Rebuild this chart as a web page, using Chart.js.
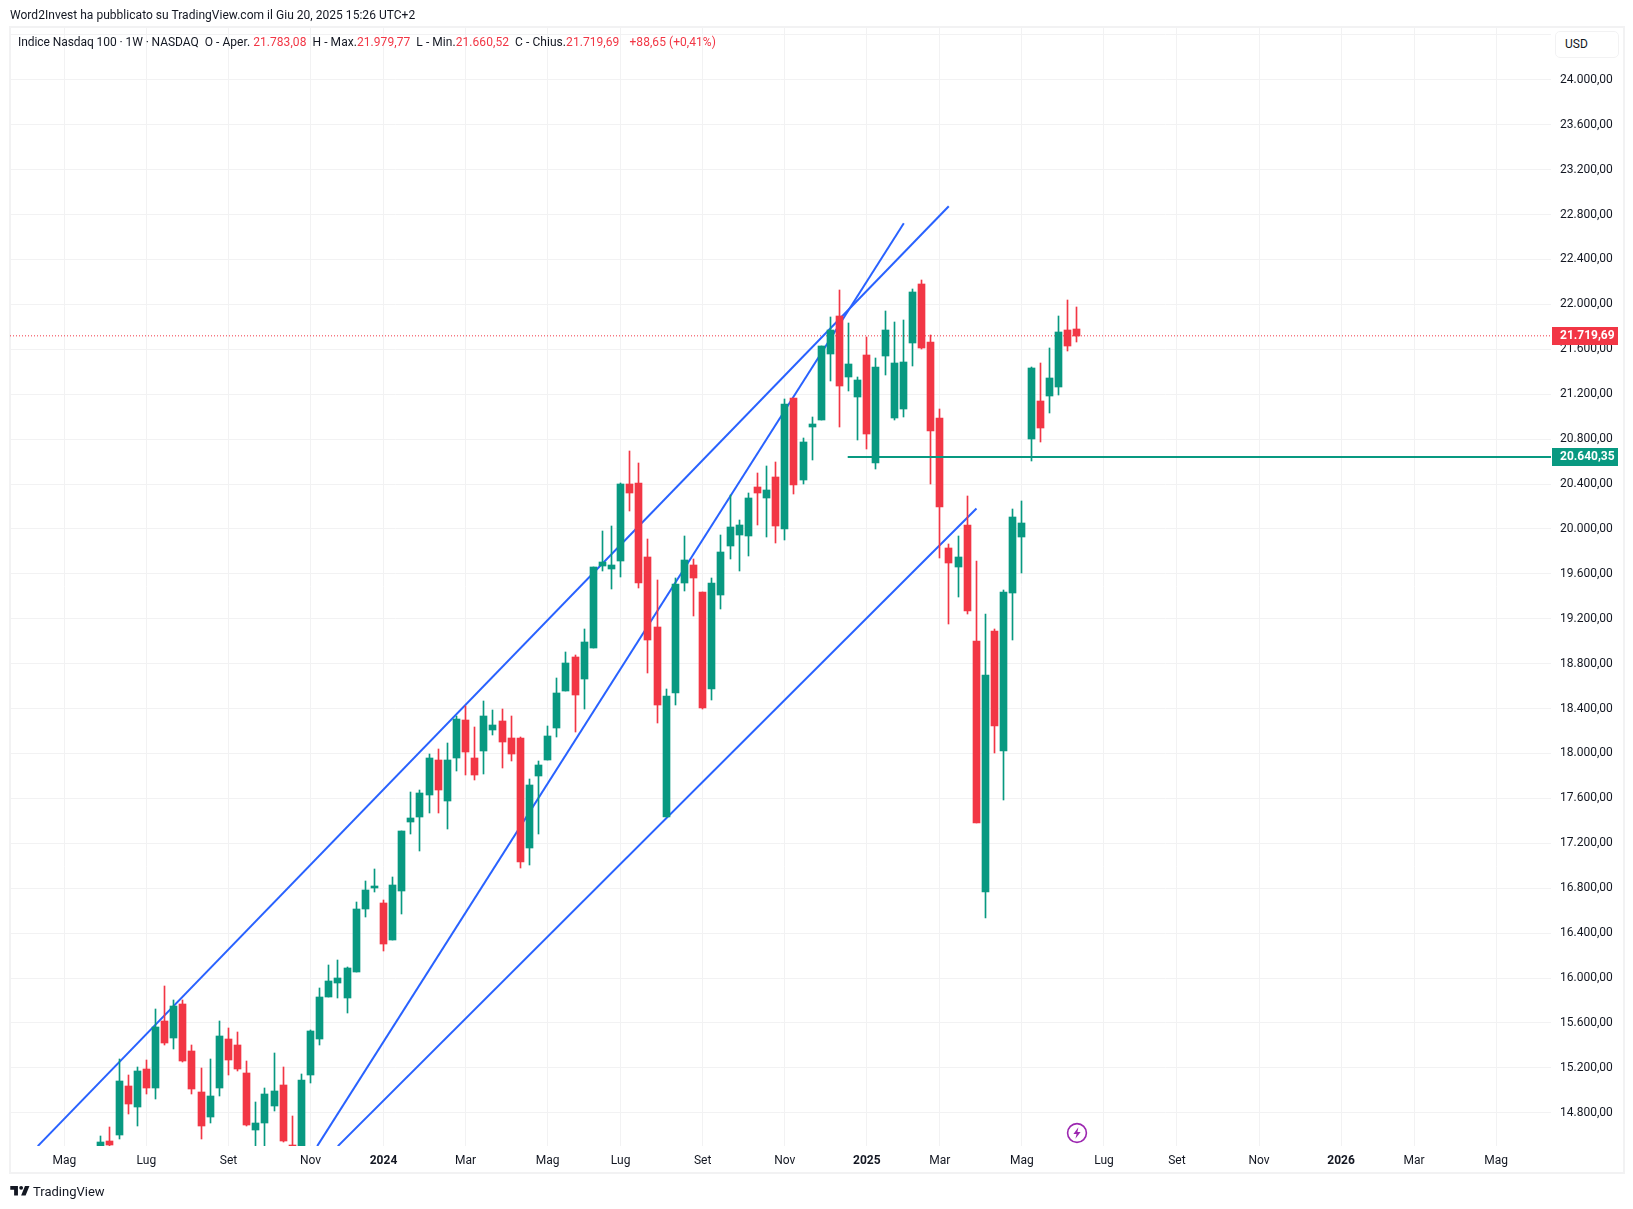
<!DOCTYPE html>
<html lang="it">
<head>
<meta charset="utf-8">
<title>Indice Nasdaq 100 - 1W</title>
<script src="https://cdn.jsdelivr.net/npm/chart.js@4"></script>
<style>
html,body{margin:0;padding:0;background:#fff;width:1633px;height:1209px;overflow:hidden;font-family:Roboto,"Open Sans",sans-serif;color:#131722}
#frame{position:absolute;left:9px;top:26px;width:1612px;height:1144px;border:2px solid #f2f2f3}
canvas{position:absolute;left:0;top:0}
.t{position:absolute;white-space:pre;font-size:12px;line-height:16px}
.r{color:#f23645}
#usd{position:absolute;left:1555px;top:31px;width:62px;height:25px;border:1px solid #f2f2f3;border-radius:5px;background:#fff;font-size:12px;line-height:25px;text-indent:9px;box-sizing:content-box}
</style>
</head>
<body>
<div id="frame"></div>
<canvas id="c" width="1633" height="1209"></canvas>
<div class="t" style="left:10px;top:7px;letter-spacing:.03px">Word2Invest ha pubblicato su TradingView.com il Giu 20, 2025 15:26 UTC+2</div>
<div class="t" style="left:18px;top:34px;letter-spacing:.06px"><span style="letter-spacing:-.07px">Indice Nasdaq 100 · 1W · NASDAQ</span>  O - Aper.<span class="r" style="margin-left:3px">21.783,08</span>  H - Max.<span class="r">21.979,77</span>  L - Min.<span class="r">21.660,52</span>  C - Chius.<span class="r">21.719,69</span>  <span class="r" style="margin-left:4px">+88,65 (+0,41%)</span></div>
<div id="usd">USD</div>
<svg style="position:absolute;left:1066px;top:1122px" width="22" height="22" viewBox="0 0 22 22"><circle cx="11" cy="11" r="9.4" fill="#fff" stroke="#9c27b0" stroke-width="1.6"/><path d="M12.4 5.2 7.4 12h3.2l-1.2 4.8 5.2-6.8h-3.2z" fill="#9c27b0"/></svg>
<svg style="position:absolute;left:9px;top:1182px" width="23" height="18" viewBox="0 0 36 28"><path fill="#131722" d="M14 6H2v6h6v9h6V6zm12 15h-7l6-15h7l-6 15zm-7-9a3 3 0 1 0 0-6 3 3 0 0 0 0 6z"/></svg>
<div class="t" style="left:33px;top:1184px;font-size:13px;color:#131722">TradingView</div>
<script>
const opens  = [14300,14553,14606,15034,14855,15194,15025,15613,15470,15773,15354,14989,14758,15025,15461,15408,15158,14651,14713,14864,15051,14517,14300,15132,15461,15835,15960,15826,
 16058,16619,16806,16664,16343,16771,17394,17430,17626,17946,17581,17964,18294,17964,18018,18205,18285,18134,18142,17154,17795,17946,18223,18552,18855,18659,18935,
 19674,19639,19710,20396,20405,19754,19122,17438,18543,19514,19683,19434,18570,19407,19844,19950,19941,20369,20271,20458,20003,21170,20440,20912,20966,21562,21892,21357,21179,21553,20583,21544,20992,21072,21660,22177,21669,
 20992,19826,19665,20039,19001,16762,19095,18018,19425,19924,20805,21135,21188,21260,21776,21783.08];
const highs  = [14597,14677,15283,15132,15212,15274,15720,15933,15800,15800,15408,15203,15283,15621,15559,15515,15265,14900,15025,15336,15212,14775,15149,15540,15907,16120,16165,16102,
 16673,16860,16967,16691,16904,17314,17661,17679,17991,18044,18089,18330,18427,18232,18463,18383,18392,18338,18151,17777,17929,18249,18668,18908,18873,19113,19665,
 19977,20022,20405,20690,20583,19906,19541,18570,19559,19941,19728,19434,19559,19950,20298,20075,20316,20494,20556,20600,21153,21170,20814,21001,21625,21883,22132,21838,21357,21705,21518,21945,21847,21865,22141,22221,21731,
 21072,19870,19941,20289,19710,19238,19113,19452,20173,20253,21446,21482,21607,21892,22043,21979.77];
const lows   = [14250,14490,14570,14793,14686,14971,14927,15408,15372,15256,14971,14562,14713,14953,15140,15176,14686,14404,14450,14820,14540,14200,14200,15069,15408,15835,15826,15693,
 16058,16548,16762,16245,16343,16566,17287,17127,17466,17474,17323,17840,17804,17768,17813,18169,17875,17929,16976,17011,17287,17938,18151,18552,18187,18392,18935,
 19621,19469,19576,20164,19478,18721,18267,17438,18436,19443,19220,18400,18472,19291,19736,19621,19763,20039,19932,19879,19897,20315,20404,20618,20966,21313,20912,21224,20796,20716,20538,21375,20974,21001,21455,21598,20404,
 19737,19149,19398,19238,17385,16539,18000,17590,19015,19603,20609,20778,21028,21197,21589,21660.52];
const closes = [14544,14517,15087,14882,15176,15025,15568,15417,15755,15265,15016,14686,14945,15488,15274,15194,14695,14713,14971,14998,14553,14300,15096,15532,15835,15978,15996,16085,
 16619,16780,16824,16299,16833,17314,17421,17644,17964,17679,17938,18303,18009,17804,18338,18258,18098,17991,17029,17715,17893,18160,18543,18810,18525,18997,19657,
 19701,19683,20396,20324,19514,19015,18436,18516,19505,19719,19567,18409,19514,19790,20013,20039,20271,20316,20351,20022,21117,20387,20778,20930,21625,21776,21277,21473,21322,20841,21438,21776,21482,21491,22114,21607,20876,
 20191,19692,19754,19273,17385,18695,18249,19434,20102,20057,21429,20903,21340,21758,21625,21719.69];

const priceTicks = [14800,15200,15600,16000,16400,16800,17200,17600,18000,18400,18800,19200,19600,20000,20400,20800,21200,21600,22000,22400,22800,23200,23600,24000,24400];
const timeTickWeeks  = [-4,5,14,23,31,40,49,57,66,75,84,92,101,110,118,127,136,144,153];
const timeTickLabels = ['Mag','Lug','Set','Nov','2024','Mar','Mag','Lug','Set','Nov','2025','Mar','Mag','Lug','Set','Nov','2026','Mar','Mag'];

const upperChannelX = [-6.91, 92.98], upperChannelY = [14503, 22874];
const steepLineX    = [23.73, 88.05], steepLineY    = [14503, 22723];
const lowerChannelX = [25.99, 96.02], lowerChannelY = [14503, 20182];
const supportX = [81.9, 159.07], supportPrice = 20640.35;
const lastPrice = 21719.69;
const hiddenTick = 24400;
const xRange = [-9.955, 159.015], yRange = [14504.05, 24470.25];

const GREEN = '#089981', RED = '#f23645', BLUE = '#2962ff', GRID = '#f2f2f3', INK = '#131722';
const fmt = v => { const [a,b] = Number(v).toFixed(2).split('.'); return a.replace(/\B(?=(\d{3})+$)/g,'.') + ',' + b; };
const colors = closes.map((c,i) => c >= opens[i] ? GREEN : RED);
const pair = (xs,ys) => xs.map((x,i) => ({x, y:ys[i]}));

const snap = {
  id:'snap',
  afterDatasetsUpdate(chart){
    chart.data.datasets.forEach((ds,di)=>{
      if(ds.type!=='bar') return;
      const w = ds.barThickness;
      chart.getDatasetMeta(di).data.forEach(el=>{
        el.x = Math.round(el.x - w/2) + w/2;
        el.y = Math.round(el.y);
        el.base = Math.round(el.base);
      });
    });
  }
};
const tags = {
  id:'tags',
  afterDraw(chart){
    const c = chart.ctx, y = chart.scales.y;
    [[lastPrice,RED],[supportPrice,GREEN]].forEach(([v,col])=>{
      const py = Math.round(y.getPixelForValue(v));
      c.save();
      c.fillStyle = col; c.fillRect(chart.chartArea.right+1, py-9, 66, 18);
      c.fillStyle = '#fff'; c.font = 'bold 12px Roboto'; c.textBaseline='middle'; c.textAlign='left';
      c.fillText(fmt(v), chart.chartArea.right+9, py);
      c.restore();
    });
  }
};

new Chart(document.getElementById('c'), {
  type:'bar',
  plugins:[snap,tags],
  data:{datasets:[
    {type:'line',data:pair(supportX,[supportPrice,supportPrice]),borderColor:GREEN,borderWidth:2,pointRadius:0,order:0},
    {type:'bar',data:opens.map((o,i)=>({x:i,y:[o,closes[i]]})),backgroundColor:colors,barThickness:7,grouped:false,borderWidth:0,order:1},
    {type:'bar',data:lows.map((l,i)=>({x:i,y:[l,highs[i]]})),backgroundColor:colors,barThickness:1,grouped:false,borderWidth:0,order:2},
    {type:'line',data:pair(upperChannelX,upperChannelY),borderColor:BLUE,borderWidth:2,pointRadius:0,order:3},
    {type:'line',data:pair(steepLineX,steepLineY),borderColor:BLUE,borderWidth:2,pointRadius:0,order:3},
    {type:'line',data:pair(lowerChannelX,lowerChannelY),borderColor:BLUE,borderWidth:2,pointRadius:0,order:3},
    {type:'line',data:pair(xRange,[lastPrice,lastPrice]),borderColor:RED,borderWidth:1,borderDash:[1,2],pointRadius:0,order:4}
  ]},
  options:{
    responsive:false,animation:false,devicePixelRatio:1,
    layout:{padding:{left:10,top:27,right:0,bottom:0}},
    plugins:{legend:{display:false},tooltip:{enabled:false}},
    scales:{
      x:{type:'linear',min:xRange[0],max:xRange[1],offset:false,
        afterBuildTicks(s){s.ticks=timeTickWeeks.map(value=>({value}));},
        afterFit(s){s.height=63;},
        grid:{color:GRID,offset:false,drawTicks:false},border:{display:false},
        ticks:{autoSkip:false,maxRotation:0,padding:8,color:INK,
          font:ctx=>({family:'Roboto',size:12,weight:(ctx.tick && /^\d+$/.test(ctx.tick.label))?'bold':'normal'}),
          callback(v){return timeTickLabels[timeTickWeeks.indexOf(v)];}}
      },
      y:{type:'linear',position:'right',min:yRange[0],max:yRange[1],
        afterBuildTicks(s){s.ticks=priceTicks.map(value=>({value}));},
        afterFit(s){s.width=82;},
        grid:{color:GRID,drawTicks:false},border:{display:false},
        ticks:{padding:9,color:INK,font:{family:'Roboto',size:12},
          callback(v){return v===hiddenTick?'':fmt(v);}}
      }
    }
  }
});
</script>
</body>
</html>
